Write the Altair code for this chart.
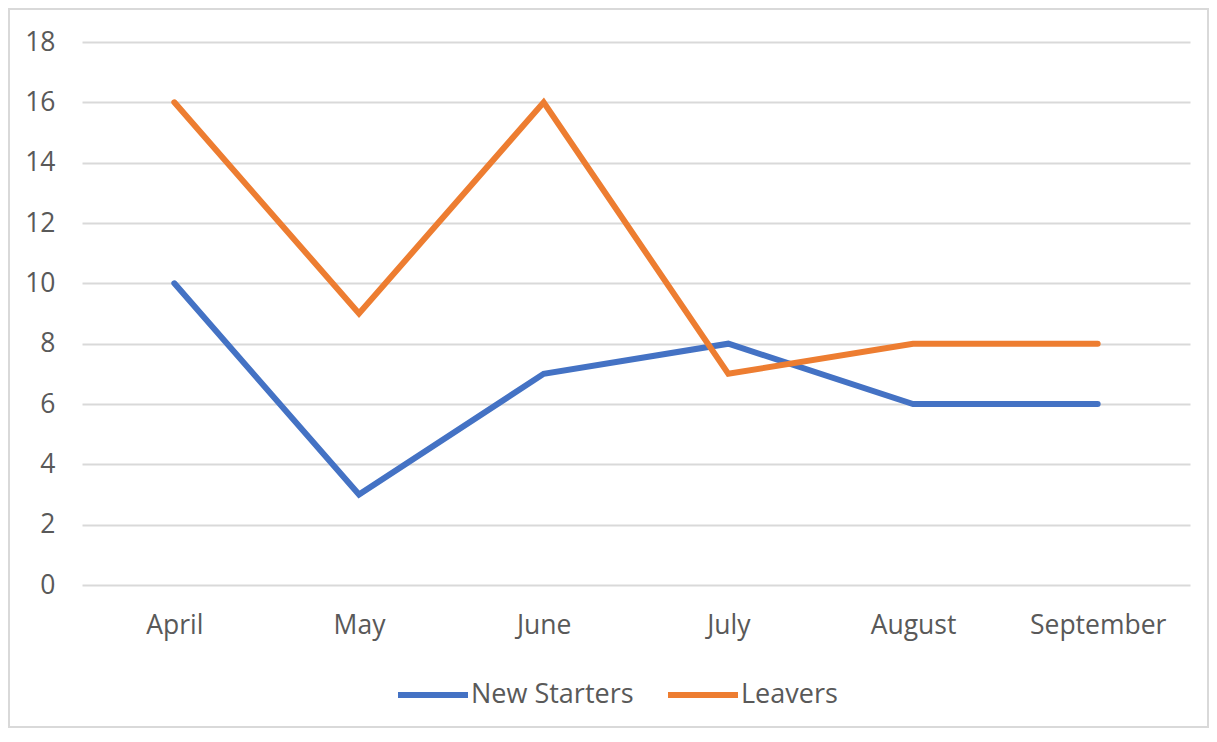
import altair as alt
import pandas as pd

months = ["April", "May", "June", "July", "August", "September"]
new_starters = [10, 3, 7, 8, 6, 6]
leavers = [16, 9, 16, 7, 8, 8]
series_names = ["New Starters", "Leavers"]
series_colors = ["#4472C4", "#ED7D31"]
y_ticks = [0, 2, 4, 6, 8, 10, 12, 14, 16, 18]

rows = []
for m, v in zip(months, new_starters):
    rows.append({"Month": m, "Series": "New Starters", "Value": v})
for m, v in zip(months, leavers):
    rows.append({"Month": m, "Series": "Leavers", "Value": v})
df = pd.DataFrame(rows)

FONT = "Open Sans"
FS = 26.5
W, H = 1108, 543

lines = alt.Chart(df).mark_line(strokeWidth=6, strokeCap="round", strokeJoin="miter").encode(
    x=alt.X("Month:N", sort=months, title=None,
            scale=alt.Scale(type="point", padding=0.5),
            axis=alt.Axis(labelAngle=0, ticks=False, tickSize=0, domain=False, grid=False,
                          labelPadding=27, labelFontSize=FS, labelFont=FONT, labelColor="#595959")),
    y=alt.Y("Value:Q", title=None,
            scale=alt.Scale(domain=[0, 18], nice=False),
            axis=alt.Axis(values=y_ticks, ticks=False, tickSize=0, domain=False, grid=True,
                          gridColor="#D9D9D9", gridWidth=2, labelPadding=27,
                          labelFontSize=FS, labelFont=FONT, labelColor="#595959")),
    color=alt.Color("Series:N", sort=series_names,
                    scale=alt.Scale(domain=series_names, range=series_colors),
                    legend=alt.Legend(title=None, orient="none", legendX=313, legendY=615,
                                      direction="horizontal", symbolType="stroke",
                                      symbolSize=4900, symbolStrokeWidth=6,
                                      labelFontSize=27, labelFont=FONT, labelColor="#595959",
                                      labelLimit=400, labelOffset=0, columnPadding=22)),
)

border = alt.Chart(pd.DataFrame({"a": [0]})).mark_rect(
    fill=None, stroke="#D9D9D9", strokeWidth=2
).encode(
    x=alt.value(-73),
    x2=alt.value(W + 18),
    y=alt.value(-33),
    y2=alt.value(H + 142),
)

chart = alt.layer(border, lines).properties(
    width=W, height=H,
    padding={"left": 74, "top": 34, "right": 19, "bottom": 143},
    autosize=alt.AutoSizeParams(type="none"),
    background="white",
).configure_view(strokeOpacity=0, strokeWidth=0)

chart.save("out.html", embed_options={"renderer": "svg", "actions": False})
